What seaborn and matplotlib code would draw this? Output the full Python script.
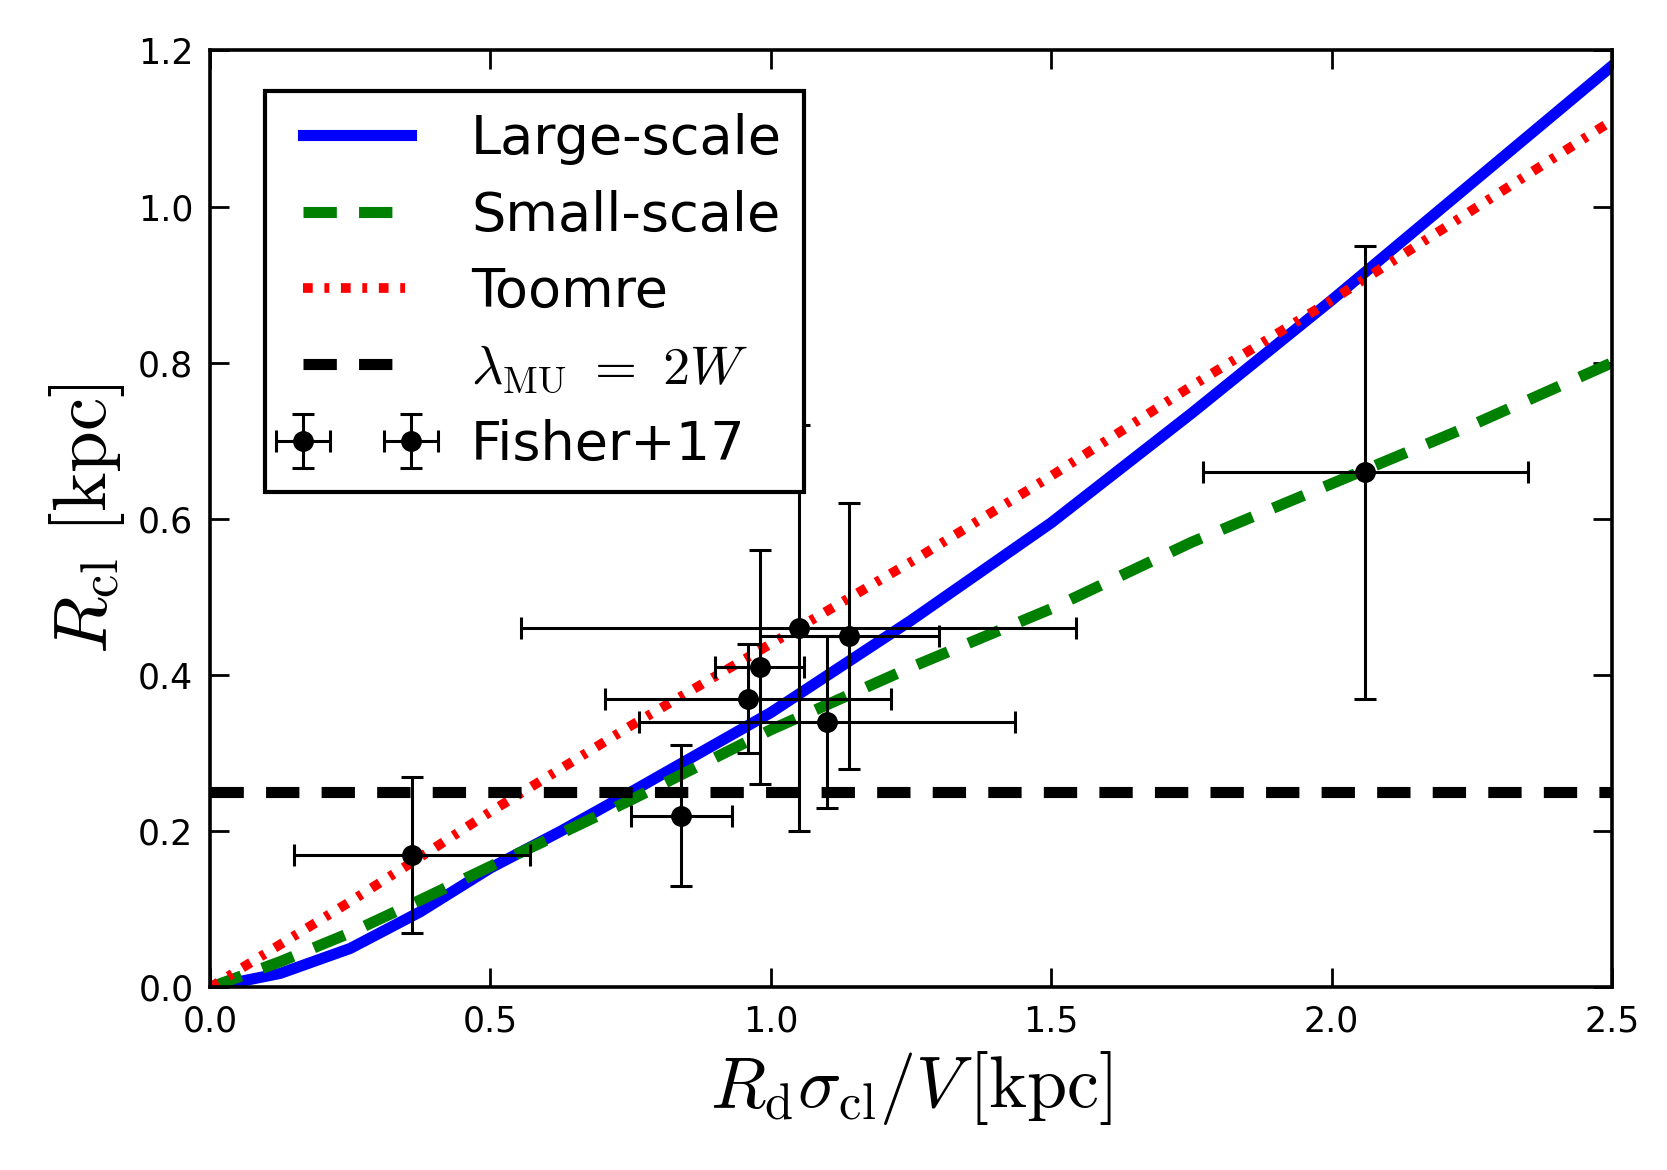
import matplotlib
matplotlib.use("Agg")
import matplotlib.pyplot as plt
import seaborn as sns
import pandas as pd
import numpy as np

x_curve = [0.0, 0.125, 0.25, 0.375, 0.5, 0.625, 0.75, 1.0, 1.25, 1.5, 1.75, 2.0, 2.25, 2.5]
large_scale = [0.0, 0.018, 0.05, 0.097, 0.153, 0.20, 0.25, 0.352, 0.47, 0.595, 0.735, 0.88, 1.03, 1.18]
small_scale = [0.0, 0.033, 0.07, 0.112, 0.155, 0.197, 0.24, 0.33, 0.41, 0.485, 0.57, 0.645, 0.72, 0.80]
toomre = [0.0, 0.055, 0.11, 0.167, 0.225, 0.28, 0.335, 0.44, 0.545, 0.655, 0.77, 0.88, 0.995, 1.11]
lambda_mu = 0.25

fx = [0.36, 0.84, 0.96, 0.98, 1.05, 1.10, 1.14, 2.06]
fy = [0.17, 0.22, 0.37, 0.41, 0.46, 0.34, 0.45, 0.66]
fxerr = [0.21, 0.09, 0.255, 0.08, 0.495, 0.335, 0.16, 0.29]
fyerr = [0.10, 0.09, 0.07, 0.15, 0.26, 0.11, 0.17, 0.29]

plt.rcParams["mathtext.fontset"] = "cm"
fig = plt.figure(figsize=(8.335, 5.85), dpi=200)
ax = fig.add_axes([0.126, 0.156, 0.841, 0.801])

df = pd.DataFrame({"x": x_curve, "large": large_scale, "small": small_scale, "toomre": toomre})
sns.lineplot(data=df, x="x", y="large", ax=ax, color="blue", lw=4, label="Large-scale")
sns.lineplot(data=df, x="x", y="small", ax=ax, color="green", lw=4, ls=(0, (3, 2)), label="Small-scale")
sns.lineplot(data=df, x="x", y="toomre", ax=ax, color="red", lw=3.5, ls=(0, (1, 1.2, 0.5, 1.2)), label="Toomre")
ax.axhline(lambda_mu, color="black", lw=4, ls=(0, (3, 2)), label=r"$\lambda_{\rm MU}\ =\ 2W$")
ax.errorbar(fx, fy, xerr=fxerr, yerr=fyerr, fmt="o", color="black", ms=6.5, lw=1.1, capsize=4, capthick=1.1, label="Fisher+17")

ax.set_xlim(0, 2.5)
ax.set_ylim(0, 1.2)
ax.set_xticks([0, 0.5, 1.0, 1.5, 2.0, 2.5])
ax.set_yticks(np.arange(0, 1.21, 0.2))
ax.xaxis.set_major_formatter(matplotlib.ticker.FormatStrFormatter("%.1f"))
ax.yaxis.set_major_formatter(matplotlib.ticker.FormatStrFormatter("%.1f"))
ax.tick_params(direction="in", top=True, right=True, labelsize=12.5, length=7, width=1, pad=6)
for s in ax.spines.values():
    s.set_linewidth(1.3)
ax.set_xlabel(r"$R_{\rm d}\sigma_{\rm cl}/V\,[\rm kpc]$", fontsize=26)
ax.set_ylabel(r"$R_{\rm cl}\ [\rm kpc]$", fontsize=27)
leg = ax.legend(loc="upper left", fontsize=19.5, numpoints=2, fancybox=False, handlelength=2.6,
                edgecolor="black", framealpha=1, borderpad=0.4, labelspacing=0.45,
                bbox_to_anchor=(0.02, 0.985))
leg.get_frame().set_linewidth(1.5)
fig.savefig("out.png", dpi=200)
